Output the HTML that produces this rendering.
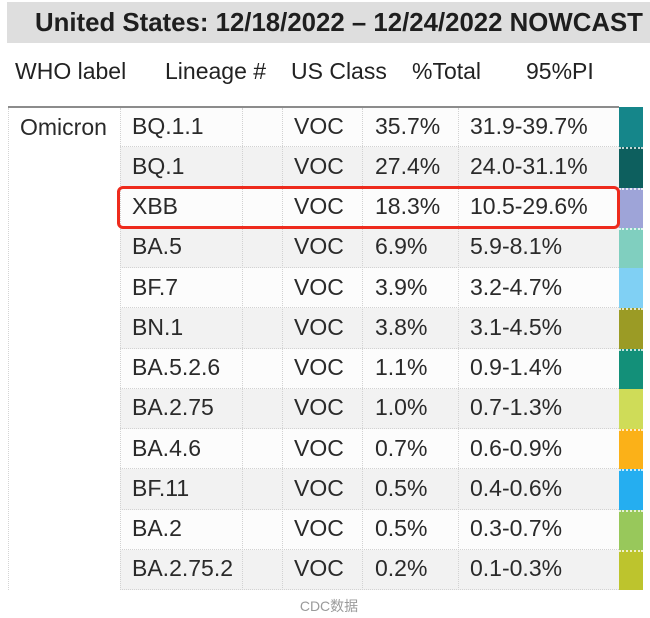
<!DOCTYPE html>
<html>
<head>
<meta charset="utf-8">
<style>
  html,body{margin:0;padding:0;background:#fff;}
  body{width:650px;height:618px;position:relative;overflow:hidden;font-family:"Liberation Sans","Noto Sans CJK SC",sans-serif;color:#2a2a2a;}
  .abs{position:absolute;}
  .title{left:7px;top:2px;width:643px;height:41px;background:#dedede;}
  .title span{position:absolute;left:28px;top:8px;font-weight:bold;font-size:25.8px;line-height:26px;white-space:nowrap;color:#1e1e1e;}
  .hdr{top:59.5px;font-size:23px;line-height:23px;white-space:nowrap;color:#222;}
  .topline{left:8px;top:106px;width:611px;height:2px;background:#8c8c8c;}
  .omi{left:8px;top:108px;width:112px;height:482px;background:#fff;border-left:1px dotted #d4d4d4;box-sizing:border-box;}
  .omi span{position:absolute;left:11px;top:8px;font-size:23px;line-height:23px;}
  .row{position:absolute;left:120px;width:499px;height:40.25px;box-sizing:border-box;border-bottom:1px dotted #d2d2d2;}
  .row.g{background:#f2f2f2;}
  .row.w{background:#fcfcfc;}
  .row div{position:absolute;top:7.5px;font-size:23px;line-height:23px;white-space:nowrap;}
  .c1{left:12px;} .c2{left:174px;} .c3{left:255px;} .c4{left:350px;}
  .vl{position:absolute;top:108px;height:482px;width:0;border-left:1px dotted #d2d2d2;}
  .bar{position:absolute;left:619px;width:24px;height:40.25px;box-sizing:border-box;}
  .bar.s{border-top:2px dotted rgba(255,255,255,0.75);}
  .red{position:absolute;left:117px;top:186px;width:503px;height:43px;border:3px solid #ee2b1d;border-radius:6px;box-sizing:border-box;}
  .cap{left:0;width:658px;top:598px;text-align:center;font-size:14px;line-height:17px;color:#9a9a9a;}
</style>
</head>
<body>
  <div class="abs title"><span>United States: 12/18/2022 – 12/24/2022 NOWCAST</span></div>

  <div class="abs hdr" style="left:15px;">WHO label</div>
  <div class="abs hdr" style="left:165px;">Lineage #</div>
  <div class="abs hdr" style="left:291px;">US Class</div>
  <div class="abs hdr" style="left:412px;">%Total</div>
  <div class="abs hdr" style="left:526px;">95%PI</div>

  <div class="abs omi"><span>Omicron</span></div>

  <div class="row w" style="top:107px;"><div class="c1">BQ.1.1</div><div class="c2">VOC</div><div class="c3">35.7%</div><div class="c4">31.9-39.7%</div></div>
  <div class="row g" style="top:147.25px;"><div class="c1">BQ.1</div><div class="c2">VOC</div><div class="c3">27.4%</div><div class="c4">24.0-31.1%</div></div>
  <div class="row w" style="top:187.5px;"><div class="c1">XBB</div><div class="c2">VOC</div><div class="c3">18.3%</div><div class="c4">10.5-29.6%</div></div>
  <div class="row g" style="top:227.75px;"><div class="c1">BA.5</div><div class="c2">VOC</div><div class="c3">6.9%</div><div class="c4">5.9-8.1%</div></div>
  <div class="row w" style="top:268px;"><div class="c1">BF.7</div><div class="c2">VOC</div><div class="c3">3.9%</div><div class="c4">3.2-4.7%</div></div>
  <div class="row g" style="top:308.25px;"><div class="c1">BN.1</div><div class="c2">VOC</div><div class="c3">3.8%</div><div class="c4">3.1-4.5%</div></div>
  <div class="row w" style="top:348.5px;"><div class="c1">BA.5.2.6</div><div class="c2">VOC</div><div class="c3">1.1%</div><div class="c4">0.9-1.4%</div></div>
  <div class="row g" style="top:388.75px;"><div class="c1">BA.2.75</div><div class="c2">VOC</div><div class="c3">1.0%</div><div class="c4">0.7-1.3%</div></div>
  <div class="row w" style="top:429px;"><div class="c1">BA.4.6</div><div class="c2">VOC</div><div class="c3">0.7%</div><div class="c4">0.6-0.9%</div></div>
  <div class="row g" style="top:469.25px;"><div class="c1">BF.11</div><div class="c2">VOC</div><div class="c3">0.5%</div><div class="c4">0.4-0.6%</div></div>
  <div class="row w" style="top:509.5px;"><div class="c1">BA.2</div><div class="c2">VOC</div><div class="c3">0.5%</div><div class="c4">0.3-0.7%</div></div>
  <div class="row g" style="top:549.75px;"><div class="c1">BA.2.75.2</div><div class="c2">VOC</div><div class="c3">0.2%</div><div class="c4">0.1-0.3%</div></div>

  <div class="vl" style="left:120px;"></div>
  <div class="vl" style="left:242px;"></div>
  <div class="vl" style="left:282px;"></div>
  <div class="vl" style="left:362px;"></div>
  <div class="vl" style="left:458px;"></div>

  <div class="abs topline"></div>

  <div class="bar" style="top:107px;background:#15868a;"></div>
  <div class="bar s" style="top:147.25px;background:#0d5f5e;"></div>
  <div class="bar s" style="top:187.5px;background:#9ea4d8;"></div>
  <div class="bar s" style="top:227.75px;background:#80cfbf;"></div>
  <div class="bar" style="top:268px;background:#80d0f4;"></div>
  <div class="bar s" style="top:308.25px;background:#9b9b25;"></div>
  <div class="bar s" style="top:348.5px;background:#139079;"></div>
  <div class="bar" style="top:388.75px;background:#cfdc58;"></div>
  <div class="bar s" style="top:429px;background:#fbb118;"></div>
  <div class="bar s" style="top:469.25px;background:#25aef0;"></div>
  <div class="bar s" style="top:509.5px;background:#98c85b;"></div>
  <div class="bar s" style="top:549.75px;background:#bdc42d;"></div>

  <div class="red"></div>

  <div class="abs cap">CDC数据</div>
</body>
</html>
